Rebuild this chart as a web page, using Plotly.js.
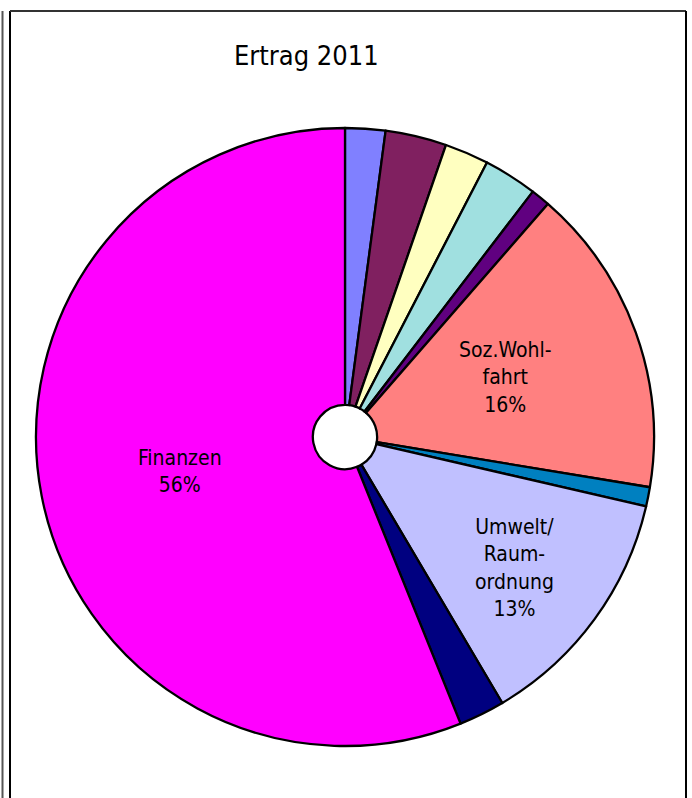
<!DOCTYPE html>
<html>
<head>
<meta charset="utf-8">
<script src="https://cdn.plot.ly/plotly-3.0.1.min.js"></script>
<style>html,body{margin:0;padding:0;background:#fff;}#chart{width:692px;height:798px;}</style>
</head>
<body>
<div id="chart"></div>
<script>
const categories = ["Allg. Verwaltung", "Öff. Sicherheit", "Bildung", "Kultur/Freizeit", "Gesundheit", "Soz.Wohlfahrt", "Verkehr", "Umwelt/Raumordnung", "Volkswirtschaft", "Finanzen"];
const shares = [2.1, 3.2, 2.3, 2.8, 1.0, 16.2, 1.0, 12.9, 2.4, 56.1];
const sliceLabels = ["", "", "", "", "", "Soz.Wohl-<br>fahrt<br>16%", "", "Umwelt/<br>Raum-<br>ordnung<br>13%", "", "Finanzen<br>56%"];
const colors = ["#8080FF", "#802060", "#FFFFC0", "#A0E0E0", "#600080", "#FF8080", "#0080C0", "#C0C0FF", "#000080", "#FF00FF"];
const chartTitle = "Ertrag 2011";

const W = 692, H = 798;
const cx = 345, cy = 437, r = 309;
const FONT = "'Liberation Sans Narrow', 'DejaVu Sans Condensed', 'Open Sans', sans-serif";

const trace = {
  type: "pie",
  labels: categories,
  values: shares,
  textinfo: "none",
  marker: {colors: colors, line: {color: "#000", width: 2.3}},
  sort: false,
  direction: "clockwise",
  rotation: 0,
  hole: 0.104,
  showlegend: false,
  domain: {x: [(cx - r) / W, (cx + r) / W], y: [1 - (cy + r) / H, 1 - (cy - r) / H]}
};

// label anchor points (pixel positions of label centres inside their slices)
const labelPos = {5: [505, 378], 7: [514, 568], 9: [180, 471]};

const annotations = [{
  text: chartTitle, xref: "paper", yref: "paper",
  x: 306 / W, y: 1 - 55 / H, xanchor: "center", yanchor: "middle",
  showarrow: false, font: {family: FONT, size: 27, color: "#000"}
}];
Object.keys(labelPos).forEach(k => {
  const [px, py] = labelPos[k];
  annotations.push({
    text: sliceLabels[k], xref: "paper", yref: "paper",
    x: px / W, y: 1 - py / H, xanchor: "center", yanchor: "middle",
    align: "center", showarrow: false,
    font: {family: FONT, size: 21, color: "#000"}
  });
});

const layout = {
  width: W, height: H,
  margin: {l: 0, r: 0, t: 0, b: 0},
  paper_bgcolor: "#fff",
  showlegend: false,
  annotations: annotations,
  shapes: [
    {type: "line", xref: "paper", yref: "paper", x0: 2.5 / W, x1: 2.5 / W, y0: 0, y1: 1 - 11 / H, line: {color: "#555", width: 2}},
    {type: "line", xref: "paper", yref: "paper", x0: 10 / W, x1: 10 / W, y0: 0, y1: 1 - 11 / H, line: {color: "#000", width: 2}},
    {type: "line", xref: "paper", yref: "paper", x0: 10 / W, x1: 686 / W, y0: 1 - 11 / H, y1: 1 - 11 / H, line: {color: "#333", width: 2}},
    {type: "line", xref: "paper", yref: "paper", x0: 686 / W, x1: 686 / W, y0: 0, y1: 1 - 11 / H, line: {color: "#000", width: 2}}
  ]
};

Plotly.newPlot("chart", [trace], layout, {staticPlot: true, displayModeBar: false});
</script>
</body>
</html>
